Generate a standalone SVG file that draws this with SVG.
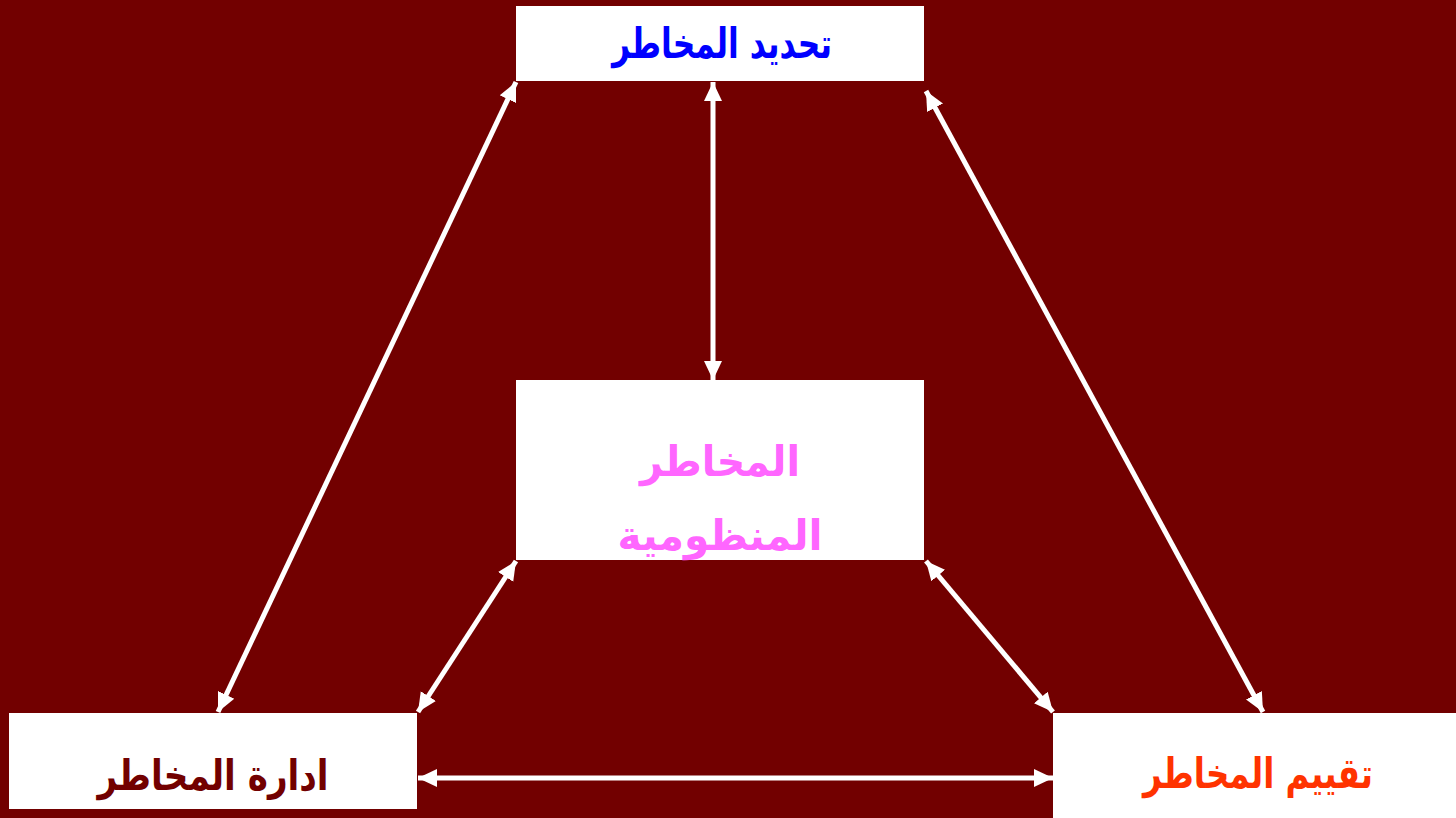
<svg xmlns="http://www.w3.org/2000/svg" width="1456" height="818" viewBox="0 0 1456 818">
<style>
.box{fill:#ffffff;}
.lbl{font-family:"DejaVu Sans","Liberation Sans",sans-serif;font-weight:bold;font-size:42px;text-anchor:middle;direction:rtl;}
.con{stroke:#ffffff;stroke-width:5;fill:none;marker-start:url(#ah);marker-end:url(#ah);}
</style>
<defs>
<marker id="ah" markerUnits="userSpaceOnUse" markerWidth="20" markerHeight="20" refX="19" refY="10" orient="auto-start-reverse" viewBox="0 0 20 20">
<path d="M0,1 L19,10 L0,19 Z" fill="#ffffff"/>
</marker>
</defs>
<rect width="1456" height="818" fill="#720000"/>
<g id="connectors">
<line class="con" x1="516" y1="82" x2="218" y2="712"/>
<line class="con" x1="713" y1="82" x2="713" y2="380"/>
<line class="con" x1="926" y1="91" x2="1263" y2="712"/>
<line class="con" x1="516" y1="561" x2="418" y2="712"/>
<line class="con" x1="926" y1="561" x2="1053" y2="712"/>
<line class="con" x1="418" y1="778" x2="1053" y2="778"/>
</g>
<g id="node-identify">
<rect class="box" x="516" y="6" width="408" height="75"/>
<text class="lbl" x="722" y="58" fill="#0000ff" textLength="220" lengthAdjust="spacingAndGlyphs">تحديد المخاطر</text>
</g>
<g id="node-systemic">
<rect class="box" x="516" y="380" width="408" height="180"/>
<text class="lbl" x="720" y="476" fill="#ff66ff" textLength="160" lengthAdjust="spacingAndGlyphs">المخاطر</text>
<text class="lbl" x="720" y="550" fill="#ff66ff" textLength="205" lengthAdjust="spacingAndGlyphs">المنظومية</text>
</g>
<g id="node-manage">
<rect class="box" x="9" y="713" width="408" height="96"/>
<text class="lbl" x="213" y="790" fill="#720000" textLength="231" lengthAdjust="spacingAndGlyphs">ادارة المخاطر</text>
</g>
<g id="node-assess">
<rect class="box" x="1053" y="713" width="403" height="105"/>
<text class="lbl" x="1258" y="788" fill="#ff3300" textLength="230" lengthAdjust="spacingAndGlyphs">تقييم المخاطر</text>
</g>
</svg>
